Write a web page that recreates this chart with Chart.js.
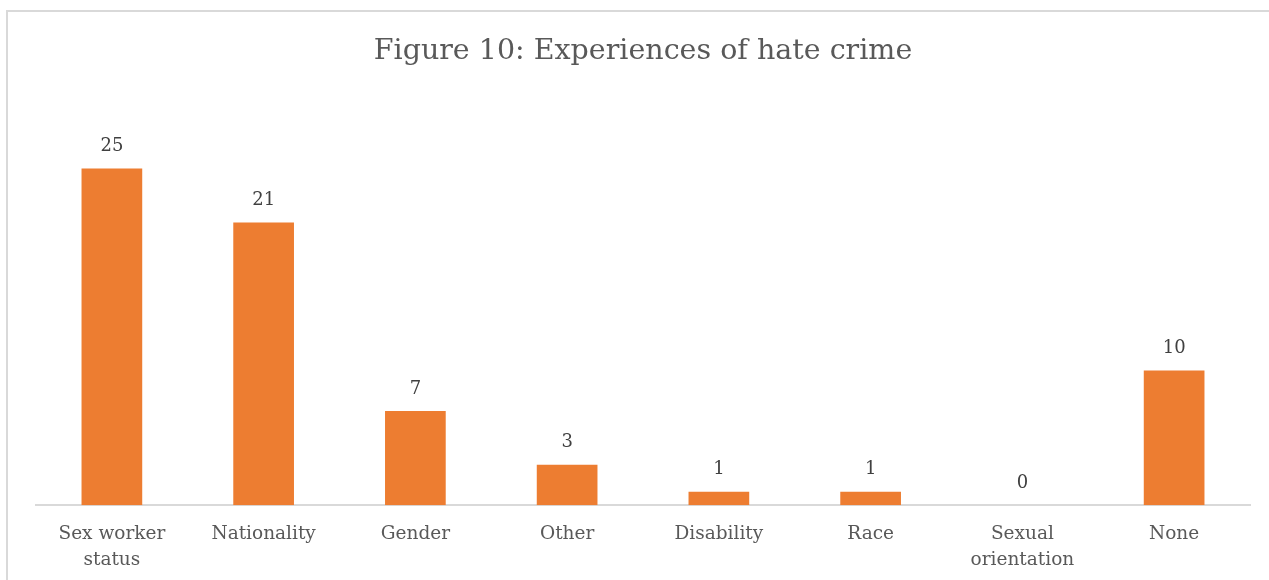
<!DOCTYPE html>
<html>
<head>
<meta charset="utf-8">
<title>Experiences of hate crime</title>
<script src="https://cdn.jsdelivr.net/npm/chart.js@4/dist/chart.umd.min.js"></script>
<style>
  body { margin: 0; background: #fff; overflow: hidden; }
  #marco { position: absolute; left: 6px; top: 10px; width: 1300px; height: 600px; border: 2px solid #d9d9d9; pointer-events: none; }
  #contenedor { position: absolute; left: 0; top: 0; width: 1269px; height: 580px; }
</style>
</head>
<body>
<div id="contenedor"><canvas id="myChart"></canvas></div>
<div id="marco"></div>
<script>
const categorias = [["Sex worker", "status"], "Nationality", "Gender", "Other", "Disability", "Race", ["Sexual", "orientation"], "None"];
const valores = [25, 21, 7, 3, 1, 1, 0, 10];

const fuente = "'DejaVu Serif', serif";
const ctx = document.querySelector("#myChart");

/* Etiquetas con el valor encima de cada barra */
const etiquetasValor = {
    id: 'etiquetasValor',
    afterDatasetsDraw(chart) {
        const c = chart.ctx;
        const meta = chart.getDatasetMeta(0);
        c.save();
        c.font = `18px ${fuente}`;
        c.fillStyle = '#404040';
        c.textAlign = 'center';
        c.textBaseline = 'middle';
        meta.data.forEach((barra, i) => {
            c.fillText(String(valores[i]), barra.x, barra.y - 22);
        });
        c.restore();
    }
};

new Chart(ctx, {
    type: 'bar',
    data: {
        labels: categorias,
        datasets: [{
            data: valores,
            backgroundColor: '#ED7D31',
            barPercentage: 0.4,
            categoryPercentage: 1
        }]
    },
    options: {
        responsive: true,
        maintainAspectRatio: false,
        animation: false,
        layout: { padding: { left: 36, right: 19, top: 0, bottom: -9 } },
        plugins: {
            legend: { display: false },
            tooltip: { enabled: false },
            title: {
                display: true,
                text: 'Figure 10: Experiences of hate crime',
                color: '#595959',
                font: { family: fuente, size: 28.5, weight: 'normal' },
                padding: { top: 34, bottom: 33 }
            }
        },
        scales: {
            x: {
                grid: { display: false, drawTicks: false },
                border: { display: true, color: '#d9d9d9', width: 2 },
                ticks: {
                    color: '#595959',
                    font: { family: fuente, size: 18.5, lineHeight: 1.4 },
                    padding: 16,
                    maxRotation: 0
                }
            },
            y: {
                display: false,
                min: 0,
                max: 30
            }
        }
    },
    plugins: [etiquetasValor]
});
</script>
</body>
</html>
